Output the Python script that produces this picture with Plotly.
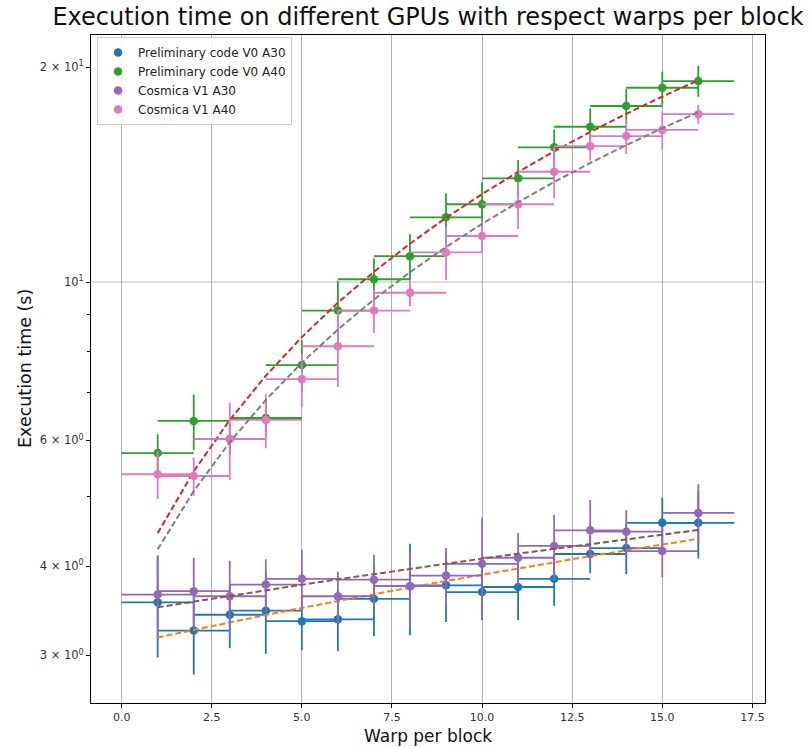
import numpy as np
import plotly.graph_objects as go

# ---- data ----
warps = list(range(1, 17))

v0_a30 = [3.56, 3.25, 3.42, 3.465, 3.35, 3.37, 3.60, 3.75, 3.76, 3.68, 3.74, 3.84, 4.16, 4.24, 4.60, 4.60]
v0_a30_err = [0.58, 0.43, 0.35, 0.45, 0.30, 0.33, 0.41, 0.55, 0.42, 0.32, 0.38, 0.32, 0.25, 0.34, 0.39, 0.50]

v0_a40 = [5.76, 6.39, 6.03, 6.45, 7.65, 9.12, 10.09, 10.87, 12.32, 12.85, 13.97, 15.44, 16.50, 17.64, 18.71, 19.12]
v0_a40_err = [0.36, 0.57, 0.30, 0.40, 0.64, 0.92, 0.70, 0.80, 1.00, 0.95, 0.85, 0.90, 1.00, 1.00, 1.00, 0.95]

v1_a30 = [3.65, 3.69, 3.63, 3.77, 3.84, 3.63, 3.83, 3.75, 3.88, 4.03, 4.11, 4.27, 4.49, 4.47, 4.20, 4.75]
v1_a30_err = [0.48, 0.42, 0.44, 0.32, 0.38, 0.30, 0.32, 0.45, 0.36, 0.65, 0.34, 0.45, 0.46, 0.32, 0.34, 0.46]

v1_a40 = [5.38, 5.35, 6.03, 6.41, 7.31, 8.13, 9.12, 9.66, 11.00, 11.60, 12.85, 14.27, 15.50, 16.01, 16.33, 17.18]
v1_a40_err = [0.41, 0.33, 0.75, 0.56, 0.62, 1.00, 0.63, 0.41, 0.94, 0.60, 0.98, 1.17, 0.70, 0.90, 1.00, 0.52]

warp_err = 1

series_names = ["Preliminary code V0 A30", "Preliminary code V0 A40", "Cosmica V1 A30", "Cosmica V1 A40"]

x_tickvals = [0.0, 2.5, 5.0, 7.5, 10.0, 12.5, 15.0, 17.5]
x_ticktext = ["0.0", "2.5", "5.0", "7.5", "10.0", "12.5", "15.0", "17.5"]
y_tickvals = [3, 4, 6, 10, 20]
y_ticktext = ["3 × 10<sup>0</sup>", "4 × 10<sup>0</sup>", "6 × 10<sup>0</sup>", "10<sup>1</sup>", "2 × 10<sup>1</sup>"]
y_minor_vals = [5, 7, 8, 9]

# ---- styling ----
FONT = "DejaVu Sans"
data_colors = ["#1f77b4", "#2ca02c", "#9467bd", "#e377c2"]
fit_colors = ["#ff7f0e", "#d62728", "#8c564b", "#7f7f7f"]

fig = go.Figure()

all_vals = [v0_a30, v0_a40, v1_a30, v1_a40]
all_errs = [v0_a30_err, v0_a40_err, v1_a30_err, v1_a40_err]

x_arr = np.array(warps, dtype=float)
for name, vals, errs, dc, fc in zip(series_names, all_vals, all_errs, data_colors, fit_colors):
    fig.add_trace(go.Scatter(
        x=warps, y=vals, mode="markers", name=name,
        marker=dict(color=dc, size=8.5),
        error_y=dict(type="data", array=errs, visible=True, color=dc, thickness=1.8, width=0),
        error_x=dict(type="constant", value=warp_err, visible=True, color=dc, thickness=1.8, width=0),
    ))
    # linear least-squares trend line of this series
    slope, intercept = np.polyfit(x_arr, np.array(vals), 1)
    fig.add_trace(go.Scatter(
        x=warps, y=list(slope * x_arr + intercept), mode="lines", showlegend=False,
        line=dict(color=fc, width=2, dash="6px,3px"), hoverinfo="skip",
    ))

fig.add_shape(type="line", xref="paper", x0=0, x1=1, yref="y", y0=10, y1=10,
              line=dict(color="#b0b0b0", width=0.8), layer="below")

LEFT, RIGHT, TOP, BOTTOM = 91, 47, 35, 45
PLOT_H = 748 - TOP - BOTTOM
PLOT_W = 812 - LEFT - RIGHT
fig.add_annotation(text="Warp per block", xref="paper", yref="paper",
                   x=0.5, y=-(747 - (748 - BOTTOM)) / PLOT_H, xanchor="center", yanchor="bottom",
                   showarrow=False, borderpad=0,
                   font=dict(family=FONT, size=17, color="#111111"))
fig.add_annotation(text="Execution time (s)", xref="paper", yref="paper",
                   x=(25 - LEFT) / PLOT_W, y=0.5, xanchor="center", yanchor="middle",
                   textangle=-90, showarrow=False, borderpad=0,
                   font=dict(family=FONT, size=17.5, color="#111111"))

fig.update_layout(
    width=812, height=748,
    margin=dict(l=LEFT, r=RIGHT, t=TOP, b=BOTTOM, autoexpand=False),
    paper_bgcolor="white", plot_bgcolor="white",
    font=dict(family=FONT, color="#222222", size=11),
    title=dict(text="Execution time on different GPUs with respect warps per block",
               font=dict(family=FONT, size=24, color="#111111"),
               x=0.5, xref="paper", xanchor="center",
               y=1 - 17 / 748, yref="container", yanchor="middle"),
    legend=dict(x=0.009, y=0.997, xanchor="left", yanchor="top",
                bgcolor="rgba(255,255,255,0.85)", bordercolor="#cccccc", borderwidth=1,
                font=dict(family=FONT, size=12, color="#222222"), tracegroupgap=0),
    showlegend=True,
)

fig.update_xaxes(
    range=[-0.85, 17.85], tickmode="array", tickvals=x_tickvals, ticktext=x_ticktext,
    showgrid=True, gridcolor="#b0b0b0", gridwidth=0.8, zeroline=False,
    showline=True, linecolor="black", linewidth=1, mirror=True,
    ticks="outside", ticklen=4, tickcolor="black", automargin=False,
    tickfont=dict(family=FONT, size=11, color="#333333"),
)
fig.update_yaxes(
    type="log", range=[np.log10(2.573), np.log10(22.18)],
    tickmode="array", tickvals=y_tickvals, ticktext=y_ticktext,
    showgrid=False, zeroline=False, automargin=False,
    showline=True, linecolor="black", linewidth=1, mirror=True,
    ticks="outside", ticklen=4, tickcolor="black",
    minor=dict(tickvals=y_minor_vals, ticks="outside", ticklen=3, tickcolor="black", showgrid=False),
    tickfont=dict(family=FONT, size=11.5, color="#333333"),
)

fig.write_html("out.html")
